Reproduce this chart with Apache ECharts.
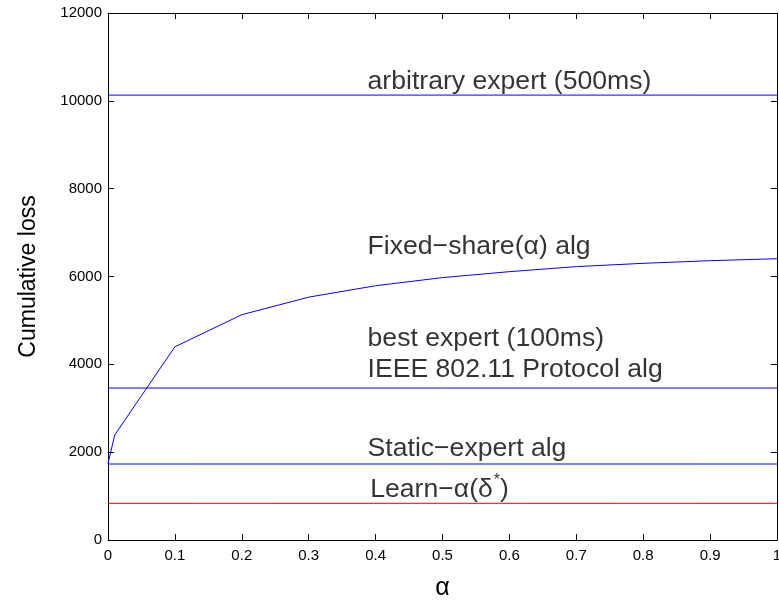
<!DOCTYPE html>
<html>
<head>
<meta charset="utf-8">
<script src="https://cdn.jsdelivr.net/npm/echarts@6/dist/echarts.min.js"></script>
<style>
  html, body { margin: 0; padding: 0; background: #fff; }
  #main { width: 779px; height: 600px; }
</style>
</head>
<body>
<div id="main"></div>
<script>
// alpha values and fixed-share cumulative loss
var alphas = [0, 0.01, 0.1, 0.2, 0.3, 0.4, 0.5, 0.6, 0.7, 0.8, 0.9, 1];
var fixedShare = [1740, 2390, 4400, 5130, 5530, 5790, 5975, 6110, 6225, 6300, 6360, 6405];

// constant losses (horizontal lines)
var arbitraryExpert = 10130;
var bestExpert = 3460;
var staticExpert = 1730;
var learnAlpha = 835;

var yTicks = [0, 2000, 4000, 6000, 8000, 10000, 12000];

// annotation texts: [x, y, text]
var notes = [
  [0.388, 10430, 'arbitrary expert (500ms)'],
  [0.388, 6680, 'Fixed\u2212share(\u03b1) alg'],
  [0.388, 4590, 'best expert (100ms)'],
  [0.388, 3880, 'IEEE 802.11 Protocol alg'],
  [0.388, 2080, 'Static\u2212expert alg'],
  [0.392, 1190, '{n|Learn\u2212\u03b1(\u03b4}{sup|*}{n|)}']
];

var chart = echarts.init(document.getElementById('main'), null, { renderer: 'canvas' });

function flat(v) {
  return [[alphas[0], v], [alphas[alphas.length - 1], v]];
}

var font = 'Liberation Sans, Arial, sans-serif';

function axisBase() {
  return {
    type: 'value',
    axisLine: { show: true, onZero: false, lineStyle: { color: '#000', width: 1 } },
    axisTick: { show: true, inside: true, length: 6, lineStyle: { color: '#000' } },
    splitLine: { show: false }
  };
}

function hline(name, v, col) {
  return {
    type: 'line', name: name, data: flat(v), color: col,
    showSymbol: false, silent: true, z: 5,
    itemStyle: { color: col },
    lineStyle: { color: col, width: 1 }
  };
}

var option = {
  animation: false,
  grid: { left: 108, right: 2, top: 13, bottom: 60, containLabel: false, outerBoundsMode: 'none' },
  xAxis: [
    Object.assign(axisBase(), {
      min: 0, max: 1, interval: 0.1, position: 'bottom',
      name: '\u03b1', nameLocation: 'middle', nameGap: 36,
      nameTextStyle: { fontSize: 25, color: '#000', fontFamily: font },
      axisLabel: { color: '#000', fontSize: 15, fontFamily: font, margin: 8,
        formatter: function (v) { return String(Math.round(v * 10) / 10); } }
    }),
    Object.assign(axisBase(), {
      min: 0, max: 1, interval: 0.1, position: 'top', axisLabel: { show: false }
    })
  ],
  yAxis: [
    Object.assign(axisBase(), {
      min: 0, max: 12000, interval: 2000, position: 'left',
      name: 'Cumulative loss', nameLocation: 'middle', nameGap: 68,
      nameTextStyle: { fontSize: 23, color: '#000', fontFamily: font },
      axisLabel: { color: '#000', fontSize: 15, fontFamily: font, margin: 6,
        formatter: function (v) { return yTicks.indexOf(v) >= 0 ? String(v) : ''; } }
    }),
    Object.assign(axisBase(), {
      min: 0, max: 12000, interval: 2000, position: 'right', axisLabel: { show: false }
    })
  ],
  series: [
    hline('arbitrary expert', arbitraryExpert, '#0000ff'),
    {
      type: 'line', name: 'Fixed-share', data: alphas.map(function (a, i) { return [a, fixedShare[i]]; }),
      color: '#0000ff', showSymbol: false, silent: true, z: 5,
      itemStyle: { color: '#0000ff' },
      lineStyle: { color: '#0000ff', width: 1 }
    },
    hline('best expert', bestExpert, '#0000ff'),
    hline('Static-expert', staticExpert, '#0000ff'),
    hline('Learn-alpha', learnAlpha, '#ff0000'),
    {
      type: 'scatter', name: 'notes', symbolSize: 0, silent: true, z: 2,
      data: notes.map(function (n) { return { value: [n[0], n[1]], text: n[2] }; }),
      label: {
        show: true, position: 'right', distance: 0,
        color: '#000', fontSize: 26.6, fontFamily: font,
        formatter: function (p) { return p.data.text; },
        rich: {
          n: { fontSize: 26.6, fontFamily: font, color: '#000', verticalAlign: 'bottom', lineHeight: 30 },
          sup: { fontSize: 16, fontFamily: font, color: '#000', verticalAlign: 'top', lineHeight: 30, padding: [0, 0, 12, 1] }
        }
      }
    }
  ]
};

chart.setOption(option);
</script>
</body>
</html>
